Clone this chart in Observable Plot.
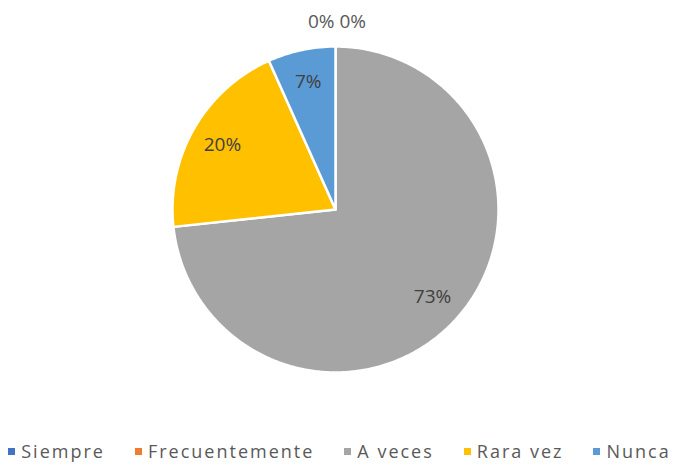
<!DOCTYPE html>
<html>
<head>
<meta charset="utf-8">
<script src="https://cdn.jsdelivr.net/npm/d3@7"></script>
<script src="https://cdn.jsdelivr.net/npm/@observablehq/plot@0.6"></script>
<style>
  html, body { margin: 0; padding: 0; background: #fff; }
  #chart { width: 679px; }
  div.lg-swatches {
    font-family: "Open Sans", sans-serif !important;
    font-size: 18px !important;
    color: #595959 !important;
    letter-spacing: 2px;
    justify-content: center;
    min-height: 30px !important;
    height: 30px;
    margin: 0 !important;
  }
  div.lg-swatches .lg-swatch { margin-right: 30px !important; }
  div.lg-swatches .lg-swatch:last-child { margin-right: 0 !important; }
  div.lg-swatches .lg-swatch > svg { margin-right: 6px !important; }
</style>
</head>
<body>
<div id="chart"></div>
<script>
// ---- data ----
const categories = ["Siempre", "Frecuentemente", "A veces", "Rara vez", "Nunca"];
const values = [0, 0, 73.3, 20, 6.7];
const labels = ["0%", "0%", "73%", "20%", "7%"];
const colors = ["#4472C4", "#ED7D31", "#A5A5A5", "#FFC000", "#5B9BD5"];

// ---- layout ----
const W = 679, H = 436;
const cx = 335, cy = 209, R = 163; // pixel centre / radius

const rows = categories.map((name, i) => ({name, value: values[i], label: labels[i]}));
const arcs = d3.pie().sort(null).value(d => d.value).startAngle(0).endAngle(2 * Math.PI)(rows);

// polygon points for each slice (unit radius, y up)
const pts = [];
for (const a of arcs) {
  const n = Math.max(2, Math.ceil((a.endAngle - a.startAngle) / 0.01));
  pts.push({name: a.data.name, x: 0, y: 0});
  for (let k = 0; k <= n; k++) {
    const t = a.startAngle + (a.endAngle - a.startAngle) * k / n;
    pts.push({name: a.data.name, x: Math.sin(t), y: Math.cos(t)});
  }
}

const inside = arcs.filter(a => a.data.value > 0).map(a => {
  const m = (a.startAngle + a.endAngle) / 2;
  return {label: a.data.label, x: 0.8 * Math.sin(m), y: 0.8 * Math.cos(m)};
});
const zeros = arcs.filter(a => a.data.value === 0).map(a => ({
  label: a.data.label, x: 1.15 * Math.sin(a.startAngle), y: 1.15 * Math.cos(a.startAngle)
}));

const plot = Plot.plot({
  width: W, height: H,
  margin: 0,
  x: {domain: [-cx / R, (W - cx) / R], axis: null},
  y: {domain: [-(H - cy) / R, cy / R], axis: null},
  color: {domain: categories, range: colors},
  style: {fontFamily: "Open Sans, sans-serif", background: "#fff"},
  marks: [
    Plot.line(pts, {x: "x", y: "y", z: "name", fill: "name", stroke: "white", strokeWidth: 2.5, curve: "linear-closed", strokeLinejoin: "round"}),
    Plot.text(inside, {x: "x", y: "y", text: "label", fill: "#404040", fontSize: 19, style: "letter-spacing:1.2px"}),
    Plot.text(zeros.slice(0, 1), {x: "x", y: "y", text: "label", fill: "#595959", fontSize: 19, textAnchor: "end", dx: -1, style: "letter-spacing:1px"}),
    Plot.text(zeros.slice(1, 2), {x: "x", y: "y", text: "label", fill: "#595959", fontSize: 19, textAnchor: "start", dx: 4, style: "letter-spacing:1px"})
  ]
});
document.getElementById("chart").append(plot);

const legend = Plot.legend({
  color: {domain: categories, range: colors},
  legend: "swatches",
  swatchSize: 7,
  className: "lg"
});
document.getElementById("chart").append(legend);
</script>
</body>
</html>
